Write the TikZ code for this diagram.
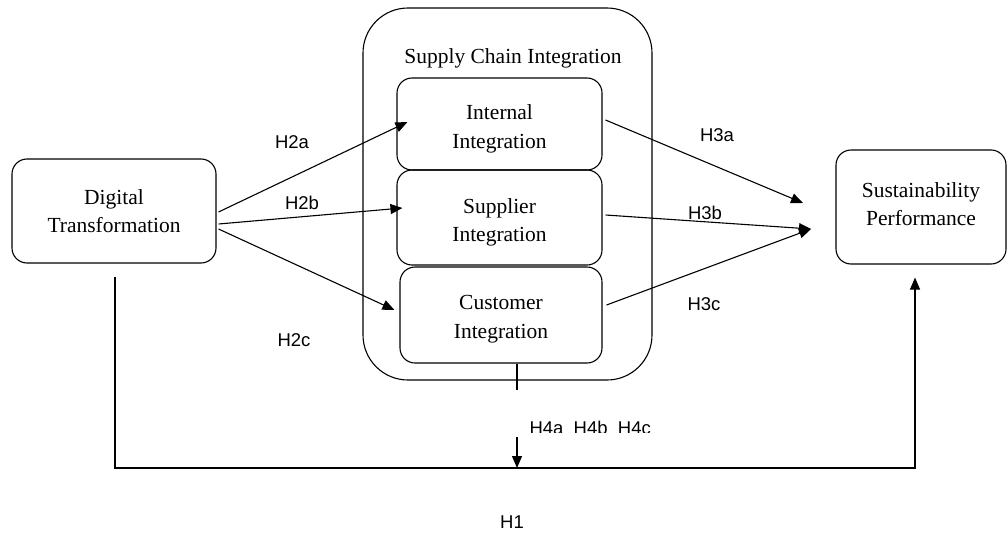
\documentclass[tikz,border=0pt]{standalone}
\usepackage{fontspec}
\setmainfont{Liberation Serif}
\newfontfamily\hypfont{Liberation Sans}
\usetikzlibrary{arrows.meta}

\begin{document}
\begin{tikzpicture}[
    x=1pt,y=-1pt,
    every node/.style={font=\fontsize{21.5}{28.5}\selectfont},
    every label/.style={align=center},
    frame/.style={draw=black, line width=1.1pt, rounded corners=15pt, align=center, inner sep=0pt},
    construct/.style={frame, minimum width=204pt, minimum height=104pt},
    dim/.style={frame, minimum width=205pt, minimum height=93pt},
    hyp/.style={font=\hypfont\fontsize{18.5}{20}\selectfont},
    link/.style={-{Triangle[length=12pt,width=10pt]}, line width=1.1pt},
    plain/.style={line width=1.1pt}
]
    \useasboundingbox (0,0) rectangle (1008,535);

    \node[frame, minimum width=289pt, minimum height=372pt, rounded corners=45pt] (sci) at (507.5,194) {};
    \node (scititle) at (513,58) {Supply Chain Integration};
    \node[dim, minimum height=92pt, label={[yshift=-5pt]center:Internal\\Integration}] (ii) at (499.5,124) {};
    \node[dim, minimum height=95pt, label={[yshift=-5pt]center:Supplier\\Integration}] (si) at (499.5,217.5) {};
    \node[dim, minimum width=202pt, minimum height=96pt, label={[yshift=-4pt]center:Customer\\Integration}] (ci) at (501,315) {};
    \node[construct] (dt) at (114,211) {Digital\\Transformation};
    \node[frame, minimum width=170pt, minimum height=114pt, label={[yshift=3pt]center:Sustainability\\Performance}] (sp) at (921,207) {};

    \coordinate (ina) at (803,203);
    \coordinate (inbc) at (811,229);
    \coordinate (h1base) at (915,468);
    \coordinate (h4top) at (517,390);
    \coordinate (h4tail) at (517,437);
    \coordinate (h4foot) at (517,468);

    \draw[link] ([xshift=2pt,yshift=-1pt]dt.east) -- ([xshift=11pt,yshift=2pt]ii.west);
    \draw[link] ([xshift=2pt,yshift=-13pt]dt.east) -- ([xshift=6pt,yshift=9.5pt]si.west);
    \draw[link] ([xshift=2pt,yshift=-18pt]dt.east) -- ([xshift=-5pt,yshift=5pt]ci.west);

    \draw[link] ([xshift=3pt,yshift=4pt]ii.east) -- (ina);
    \draw[link] ([xshift=3pt,yshift=2.5pt]si.east) -- (inbc);
    \draw[link] ([xshift=4pt,yshift=10pt]ci.east) -- (inbc);

    \draw[link] ([xshift=1pt,yshift=-13pt]dt.south) |- (h1base) -- ([xshift=-6pt,yshift=-13pt]sp.south);
    \draw[plain] (ci.south -| h4top) -- (h4top);
    \draw[link] (h4tail) -- (h4foot);

    \node[hyp] (h2a) at (292,142) {H2a};
    \node[hyp] (h2b) at (302,203) {H2b};
    \node[hyp] (h2c) at (294,340) {H2c};
    \node[hyp] (h3a) at (717,135) {H3a};
    \node[hyp] (h3b) at (705,213) {H3b};
    \node[hyp] (h3c) at (704,304) {H3c};
    \node[hyp] (h1) at (512,522) {H1};
    \begin{scope}
        \clip (520,400) rectangle (660,432);
        \node[hyp, anchor=west] (h4) at (526,428) {H4a\ \ H4b\ \ H4c};
    \end{scope}
\end{tikzpicture}
\end{document}
